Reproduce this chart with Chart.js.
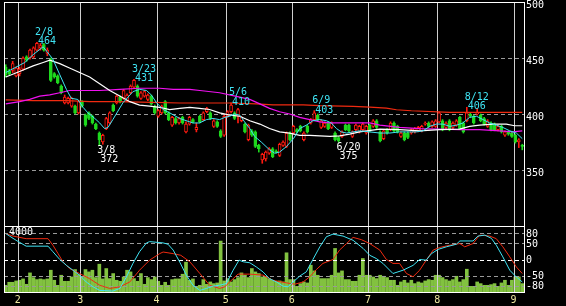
<!DOCTYPE html>
<html>
<head>
<meta charset="utf-8">
<script src="https://cdn.jsdelivr.net/npm/chart.js@4.4.1/dist/chart.umd.min.js"></script>
<style>
  html, body { margin: 0; padding: 0; background: #000; }
  #wrap { position: relative; width: 566px; height: 306px; background: #000; overflow: hidden; }
  canvas { position: absolute; left: 0; }
  #priceCanvas { top: 0; }
  #subCanvas { top: 226px; }
</style>
</head>
<body>
<div id="wrap">
  <canvas id="priceCanvas" width="566" height="226"></canvas>
  <canvas id="subCanvas" width="566" height="80"></canvas>
</div>
<script>
/* ── daily candles ── */
const candleOpen = [
  442,438,439,434,436,440,451,450,451,457, 459,462,454,449,436,434,425,410,410,407,
  407,401,411,399,401,398,391,383,375,387, 392,408,410,415,414,412,419,424,425,414,
  416,413,416,407,398,401,411,401,390,396, 392,397,384,391,395,386,398,395,402,401,
  389,393,385,381,398,402,401,398,394,391, 377,385,384,372,359,360,365,369,367,363,
  372,371,383,383,386,389,377,389,392,395, 399,388,389,392,388,383,379,380,390,390,
  380,386,384,386,383,390,389,394,384,378, 386,386,392,389,380,383,383,383,384,385,
  385,391,392,389,389,393,394,388,394,388, 390,397,392,394,400,398,400,399,396,389,
  392,391,386,389,381,384,383,381,375,372
];
const candleHigh = [
  444,440,447,442,442,451,452,458,460,464, 463,463,459,450,437,435,426,417,415,415,
  408,412,412,400,402,399,392,384,382,397, 402,409,417,416,422,418,426,431,426,420,
  421,418,417,408,404,408,412,402,398,397, 397,398,393,398,396,392,399,402,406,402,
  395,394,386,399,403,410,402,405,398,392, 391,386,385,373,365,367,370,370,368,374,
  376,384,384,390,387,390,384,390,396,403, 400,395,393,393,393,384,380,385,391,391,
  385,391,390,392,390,391,395,395,385,386, 387,393,393,390,384,384,384,387,388,389,
  390,393,393,394,395,402,395,393,395,393, 395,398,393,406,401,399,405,400,397,395,
  393,392,390,390,385,385,384,382,378,373
];
const candleLow = [
  433,435,437,433,434,439,447,449,450,456, 457,456,452,429,432,427,418,409,409,406,
  400,400,406,389,395,391,386,372,373,386, 391,402,409,410,413,411,418,423,415,413,
  415,412,408,400,397,400,400,394,389,391, 391,391,383,390,392,384,392,394,401,395,
  388,388,379,380,397,401,395,392,393,383, 376,380,370,366,356,358,364,361,365,362,
  371,370,376,382,383,384,376,383,391,394, 394,387,388,386,387,376,375,379,385,384,
  379,385,383,385,382,384,388,387,375,377, 382,385,384,383,379,376,378,382,383,384,
  384,390,388,388,388,392,385,387,385,387, 389,386,383,393,397,391,399,393,390,388,
  385,385,385,383,380,381,379,374,370,368
];
const candleClose = [
  435,436,445,441,440,450,448,457,459,463, 461,457,457,430,433,428,419,415,414,414,
  401,411,407,390,396,392,387,377,381,396, 401,403,416,411,421,417,425,430,416,419,
  420,417,409,401,403,407,401,395,397,392, 396,392,391,397,393,388,393,401,405,396,
  394,389,380,398,402,408,396,404,397,384, 390,381,371,369,364,366,369,362,366,373,
  375,383,377,389,384,385,383,384,395,401, 395,394,392,387,392,377,376,384,386,385,
  384,390,389,391,389,385,394,388,376,385, 383,392,385,384,383,377,379,386,387,388,
  389,392,389,393,394,401,386,392,386,392, 394,387,384,401,398,392,401,394,391,394,
  386,386,389,384,384,382,380,375,377,371
];
const volume = [
  460,640,640,720,760,840,520,1200,920,800, 840,800,840,1360,760,460,1060,700,700,960,
  1400,1100,960,1400,1260,1360,920,1720,840,1460, 860,1160,760,700,960,1360,1260,860,700,1160,
  520,920,800,960,700,460,640,460,800,840, 840,1120,1840,760,840,400,460,800,520,660,
  560,600,3100,720,860,660,800,920,1200,1060, 920,1460,1260,1160,960,960,860,760,700,720,
  660,2400,800,800,400,560,660,600,1660,1320, 1060,860,860,860,1060,2660,1200,1320,800,800,
  700,700,1060,2060,1060,1060,960,860,1060,1000, 920,760,760,460,660,760,600,760,560,660,
  600,720,800,760,1060,1060,920,800,720,800, 1000,660,800,1420,400,400,660,560,460,460,
  500,560,400,600,760,460,760,960,960,560
];

/* ── moving averages, sampled at day positions ── */
const maShortIdx = [0,5.5,7.9,10.8,13.6,15.6,17.5,18.9,20.8,22.3,23.7,25.7,27.1,28.5,29.5,30.9,33.8,36.7,38.6,40.6,
  42,43.5,45.4,47.3,50.2,54,55.9,57.9,59.8,61.7,63.2,64.6,66,67.5,68.9,70.4,71.8,73.7,76.1,77.6,
  79,81,83,84.8,86.7,88.6,90.6,92.5,93.9,95.4,96.8,98.3,100.2,102.1,105,107.9,110.8,113.6,116.5,118.4,
  120.4,122.3,124.2,126.1,128.1,130,131.9,133.8,135.8,137.7,139.6,141.5,143.4,145.4,147.3,149];
const maShortVal = [437,446,453,460,449,435,422,414,413,406,401,396,392,387,388,395,410,420,422,421,
  417,410,404,401,396,392,392,395,396,395,397,398,400,399,393,387,380,375,368,365,
  366,371,378,387,390,394,395,394,392,387,384,383,384,385,384,383,383,384,384,384,
  385,389,391,391,389,390,392,397,398,395,392,390,388,385,383,378];

const maMidIdx = [0,4,7.9,10.8,12.7,15.6,18.4,21.3,24.2,27.1,30,32.9,35.8,38.6,41.5,44.4,47.3,50.2,53.1,55.9,
  58.8,61.7,64.6,67.5,70.4,73.3,76.1,79,81.9,84.8,87.7,90.6,93.5,96.3,99.2,102.1,107.9,113.6,119.4,125.2,
  130.9,133.8,136.7,140.6,144.4,146.8,149];
const maMidVal = [433,438,443,446,448,445,441,437,433,427,421,416,411,408,407,406,404,405,406,405,
  404,401,399,398,394,391,387,384,383,381,381,380.5,380,380.5,382,384,386.5,386,385,386,
  386.5,389,390,391,391,389.5,389.5];

const maLongIdx = [0,4,6.9,9.8,12.7,15.6,18.4,27.1,32.9,38.6,44.4,48.3,53.1,56,61.7,67.5,70.4,73.3,76.1,79,
  81.9,84.8,87.7,90.6,93.5,99.2,105,107.9,113.6,119.4,125.2,130.9,136.7,142.5,146.3,149];
const maLongVal = [409,411,413,416,417,419,421,421,422,423,423,422,422,421,419,415,413,409,405,402,
  400,397,395,393,392,392,392,390,388,387,386.5,386,386,385,384,385];

const maYearIdx = [0,7.9,17.5,24.2,31.9,42.5,50.2,64.6,72.3,77.1,85.8,90.6,100.2,105,109.8,112.7,117,128.1,149];
const maYearVal = [412.7,412,412,411,411,410.3,409.8,409.8,409.1,408.2,408.2,407.4,406.8,406.2,405.3,403.8,402.9,401.4,401.4];

/* ── oscillators (lower panel) ── */
const oscCyanIdx = [0,1.1,3,5.9,12.2,13.6,15.6,17.5,19.4,21.3,23.2,25.2,27.1,30.9,32.9,34.8,36.7,38.6,40.6,41.5,
  45.4,46.8,48.3,50.2,52.1,54,56,57.9,59.8,61.7,63.6,65.6,67.3,68.5,70.4,72.3,74.2,76.1,78.1,80,
  81.4,82.9,84.8,86.7,88.6,90.6,92.5,94.4,97.3,100.2,103.1,105,106.9,108.8,111.7,114.6,117.5,119.4,121.3,122.8,
  124.7,127.1,130,131,134.8,136.2,138.2,140.1,141.5,143.4,145.4,147.3,149];
const oscCyanVal = [80,72,59,41,41,24,0,-18,-33,-48,-69,-84,-95,-97,-89,-54,-12,24,51,55,
  51,47,29,-8,-48,-79,-95,-89,-82,-79,-74,-33,-2,-7,-10,-23,-38,-59,-69,-82,
  -84,-69,-51,-38,0,39,70,78,72,59,34,13,3,-12,-43,-33,-18,0,-2,18,
  31,39,47,57,57,72,75,65,44,8,-33,-54,-69];

const oscRedIdx = [0,2.1,5.9,12.2,13.6,15.1,16.5,18.4,21.3,24.2,27.1,30,32.9,35.8,38.6,41.5,44.4,45.4,48.3,50.5,
  53.1,56,58.8,61.7,63.2,64.6,67,70.4,74.2,77.1,81,83.4,85.8,87.7,89.6,91.5,94.4,96.3,98.3,100.2,
  102.6,105,107.9,109.8,111.7,113.6,115.6,117.5,119.4,121.3,123.3,125.2,128.1,131,132.4,134.8,136.7,139.6,141.5,143.4,
  145.4,147.3,149];
const oscRedVal = [80,72,64,64,44,18,-7,-28,-43,-59,-79,-89,-84,-69,-33,-2,18,23,18,13,
  -7,-43,-79,-89,-84,-69,-45,-45,-48,-64,-72,-76,-69,-53,-31,-12,0,29,49,68,
  61,49,29,0,-12,-12,-43,-53,-33,-2,29,37,44,49,39,49,75,72,64,39,
  8,-23,-43];

/* ── marked highs / lows ── */
const hiIdx = [9, 37, 65, 89, 133];
const hiVal = [464, 431, 410, 403, 406];
const hiDate = ['2/8', '3/23', '5/6', '6/9', '8/12'];
const loIdx = [27, 96];
const loVal = [372, 375];
const loDate = ['3/8', '6/20'];

/* ── axes ── */
const priceTicks = [500, 450, 400, 350];
const oscTicks = [80, 50, 0, -50, -80];
const monthPos = [3.5, 21.5, 43.5, 63.5, 82.5, 104.5, 124.5, 146.5];
const monthText = ['2', '3', '4', '5', '6', '7', '8', '9'];
const volLabel = '4000';

const FONT = '10px "DejaVu Sans Mono"';
const RED = '#ff1a10';
const GREEN = '#1ed81e';
const CYAN = '#3fe4f4';

const pts = (xs, ys) => xs.map((x, k) => ({ x: x, y: ys[k] }));
const isUp = candleOpen.map((o, i) => candleClose[i] >= o);

const bodies = candleOpen.map((o, i) => ({ x: i, y: [o, candleClose[i]] }));
const wicks = candleLow.map((l, i) => ({ x: i, y: [l, candleHigh[i]] }));
const candleCol = isUp.map(u => u ? RED : GREEN);
const bodyFill = isUp.map(u => u ? '#000' : GREEN);

function xAxis() {
  return { type: 'linear', min: -0.5, max: 149.5, offset: false, display: false };
}

function monthLines(ctx, x, top, bottom) {
  ctx.fillStyle = '#cfcfcf';
  monthPos.forEach(v => {
    const px = Math.round(x.getPixelForValue(v));
    ctx.fillRect(px, top, 1, bottom - top);
  });
}

function hDash(ctx, a, py, color) {
  ctx.strokeStyle = color;
  ctx.lineWidth = 1;
  ctx.setLineDash([4, 3]);
  ctx.beginPath();
  ctx.moveTo(a.left, Math.round(py) + 0.5);
  ctx.lineTo(a.right, Math.round(py) + 0.5);
  ctx.stroke();
  ctx.setLineDash([]);
}

/* ── price panel decorations ── */
const priceDeco = {
  id: 'priceDeco',
  beforeDatasetsDraw(chart) {
    const { ctx, chartArea: a, scales: { x, y } } = chart;
    ctx.save();
    [450, 400, 350].forEach(v => hDash(ctx, a, y.getPixelForValue(v), '#9a9a9a'));
    monthLines(ctx, x, a.top, a.bottom);
    ctx.restore();
  },
  afterDraw(chart) {
    const { ctx, chartArea: a, scales: { x, y } } = chart;
    ctx.save();
    // frame
    ctx.fillStyle = '#fff';
    ctx.fillRect(a.left, a.top, a.right - a.left + 1, 1);
    ctx.fillRect(a.left, a.top, 1, a.bottom - a.top);
    ctx.fillRect(a.right, a.top, 1, a.bottom - a.top);
    // price labels
    ctx.font = FONT;
    ctx.textAlign = 'left';
    ctx.textBaseline = 'alphabetic';
    priceTicks.forEach(v => ctx.fillText(String(v), a.right + 2, y.getPixelForValue(v) + 6));
    // marked highs and lows
    ctx.fillStyle = CYAN;
    hiIdx.forEach((idx, k) => {
      const px = x.getPixelForValue(idx), py = y.getPixelForValue(hiVal[k]);
      ctx.fillText(hiDate[k], px - 2, py - 7.5);
      ctx.fillText(String(hiVal[k]), px + 1, py + 2);
    });
    ctx.fillStyle = '#fff';
    loIdx.forEach((idx, k) => {
      const px = x.getPixelForValue(idx), py = y.getPixelForValue(loVal[k]);
      ctx.fillText(loDate[k], px - 2, py + 7.5);
      ctx.fillText(String(loVal[k]), px + 1, py + 17);
    });
    ctx.restore();
  }
};

new Chart(document.getElementById('priceCanvas'), {
  type: 'bar',
  data: {
    datasets: [
      { type: 'line', data: pts(maShortIdx, maShortVal), borderColor: CYAN, borderWidth: 1, pointRadius: 0, order: 0 },
      { type: 'line', data: pts(maMidIdx, maMidVal), borderColor: '#ffffff', borderWidth: 1.2, pointRadius: 0, order: 0 },
      { type: 'line', data: pts(maLongIdx, maLongVal), borderColor: '#f010f0', borderWidth: 1.2, pointRadius: 0, order: 0 },
      { type: 'line', data: pts(maYearIdx, maYearVal), borderColor: '#f02a10', borderWidth: 1.2, pointRadius: 0, order: 0 },
      { type: 'bar', data: bodies, backgroundColor: bodyFill, borderColor: candleCol, borderWidth: 1,
        borderSkipped: false, barThickness: 3, grouped: false, order: 1 },
      { type: 'bar', data: wicks, backgroundColor: candleCol, borderWidth: 0,
        barThickness: 1, grouped: false, order: 2 }
    ]
  },
  options: {
    responsive: false,
    animation: false,
    events: [],
    layout: { padding: { left: 4, top: 2, right: 0, bottom: 0 } },
    plugins: { legend: { display: false }, tooltip: { enabled: false } },
    scales: {
      x: xAxis(),
      y: {
        position: 'right', min: 300, max: 500,
        grid: { display: false }, border: { display: false }, ticks: { display: false },
        afterFit(s) { s.width = 42; }
      }
    }
  },
  plugins: [priceDeco]
});

/* ── volume + oscillator panel ── */
const subDeco = {
  id: 'subDeco',
  afterDatasetDraw(chart, args) {
    if (args.meta.type !== 'bar') return;
    const { ctx, chartArea: a, scales: { x, y } } = chart;
    ctx.save();
    oscTicks.forEach(v => hDash(ctx, a, y.getPixelForValue(v), v === 0 ? '#ffffff' : '#9a9a9a'));
    monthLines(ctx, x, a.top, a.bottom);
    ctx.restore();
  },
  afterDraw(chart) {
    const { ctx, chartArea: a, scales: { x, y } } = chart;
    ctx.save();
    ctx.fillStyle = '#fff';
    ctx.fillRect(a.left, a.top, a.right - a.left + 1, 1);
    ctx.fillRect(a.left, a.bottom - 1, a.right - a.left + 1, 1);
    ctx.fillRect(a.left, a.top, 1, a.bottom - a.top);
    ctx.fillRect(a.right, a.top, 1, a.bottom - a.top);
    ctx.font = FONT;
    ctx.textBaseline = 'alphabetic';
    ctx.textAlign = 'left';
    oscTicks.forEach(v => ctx.fillText(String(v), a.right + 2, y.getPixelForValue(v) + 3.7));
    ctx.fillText(volLabel, a.left + 5, a.top + 9);
    ctx.fillStyle = '#eee8a0';
    ctx.textAlign = 'center';
    monthPos.forEach((v, k) => ctx.fillText(monthText[k], x.getPixelForValue(v), a.bottom + 10));
    ctx.restore();
  }
};

new Chart(document.getElementById('subCanvas'), {
  type: 'bar',
  data: {
    datasets: [
      { type: 'line', data: pts(oscCyanIdx, oscCyanVal), yAxisID: 'y', borderColor: CYAN, borderWidth: 1, pointRadius: 0, order: 0 },
      { type: 'line', data: pts(oscRedIdx, oscRedVal), yAxisID: 'y', borderColor: '#f02a10', borderWidth: 1, pointRadius: 0, order: 0 },
      { type: 'bar', data: volume.map((v, i) => ({ x: i, y: v })), yAxisID: 'v',
        backgroundColor: '#82c240', borderWidth: 0, barThickness: 3, grouped: false, order: 2 }
    ]
  },
  options: {
    responsive: false,
    animation: false,
    events: [],
    layout: { padding: { left: 4, top: 0, right: 0, bottom: 13 } },
    plugins: { legend: { display: false }, tooltip: { enabled: false } },
    scales: {
      x: xAxis(),
      y: {
        position: 'right', min: -103, max: 103,
        grid: { display: false }, border: { display: false }, ticks: { display: false },
        afterFit(s) { s.width = 42; }
      },
      v: { display: false, min: 0, max: 4000 }
    }
  },
  plugins: [subDeco]
});
</script>
</body>
</html>
